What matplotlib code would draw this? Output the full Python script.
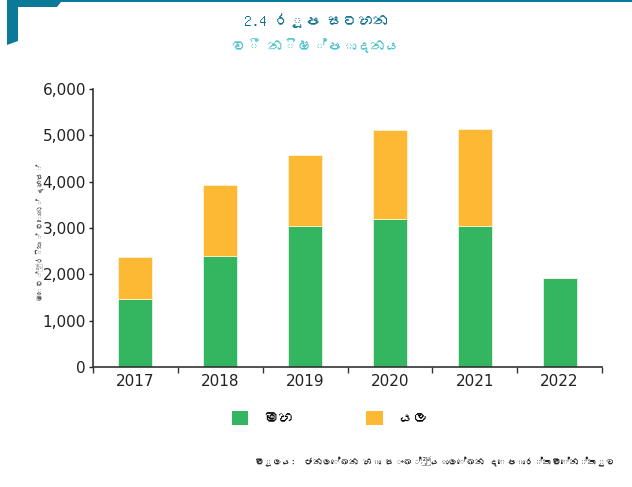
import numpy as np
import matplotlib.pyplot as plt
from matplotlib import font_manager
from matplotlib.patches import Polygon, Patch
from matplotlib.ticker import FuncFormatter
from fontTools.ttLib import TTFont

years = ['2017', '2018', '2019', '2020', '2021', '2022']
maha = np.array([1470, 2390, 3050, 3200, 3050, 1920])
yala = np.array([900, 1530, 1530, 1910, 2090, 0])

title1 = '2.4 රූප සටහන'
title2 = 'වී නිෂ්පාදනය'
ylabel = 'මෙට්‍රික් ටොන් දහස්'
labels = ['මහ', 'යල']
source = 'මූලය:  ජනලේඛන හා සංඛ්‍යාලේඛන දෙපාර්තමේන්තුව'

green = '#34b55f'
orange = '#fdb933'
teal = '#0b7a99'


# look for any installed font that has Sinhala letters
def find_sinhala_font():
    for path in font_manager.findSystemFonts():
        try:
            f = TTFont(path, fontNumber=0, lazy=True)
            cmap = f.getBestCmap() or {}
            if 0x0DB8 in cmap and 0x0DC4 in cmap:
                return font_manager.FontProperties(fname=path).get_name()
        except Exception:
            continue
    return None


sin = find_sinhala_font()
families = [sin, 'DejaVu Sans'] if sin else ['DejaVu Sans']
plt.rcParams['font.family'] = families

fig = plt.figure(figsize=(6.32, 4.87), dpi=100)
ax = fig.add_axes([93 / 632, 1 - 367 / 487, 509 / 632, 278 / 487])

x = np.arange(len(years))
ax.bar(x, maha, width=0.4, color=green, edgecolor='#dff3e4', linewidth=0.6)
ax.bar(x, yala, width=0.4, bottom=maha, color=orange, edgecolor='#fff2d6', linewidth=0.6)

ax.set_xlim(-0.5, len(years) - 0.5)
ax.set_ylim(0, 6000)
ax.set_yticks(np.arange(0, 6001, 1000))
ax.yaxis.set_major_formatter(FuncFormatter(lambda v, p: f'{int(v):,}'))
ax.set_xticks(x)
ax.set_xticklabels(years)
ax.set_xticks(np.arange(-0.5, len(years), 1), minor=True)
ax.tick_params(axis='x', which='major', length=0, labelsize=11, pad=5, colors='#222222')
ax.tick_params(axis='x', which='minor', length=4, width=1, color='#333333')
ax.tick_params(axis='y', length=3, width=1, labelsize=11, colors='#222222', pad=2)
for s in ['top', 'right']:
    ax.spines[s].set_visible(False)
for s in ['left', 'bottom']:
    ax.spines[s].set_color('#333333')
    ax.spines[s].set_linewidth(1.2)
for lab in ax.get_xticklabels() + ax.get_yticklabels():
    lab.set_family('DejaVu Sans')

fig.text(40 / 632, 1 - 232 / 487, ylabel, rotation=90, ha='center', va='center',
         fontsize=5.5, color='#555555')

fig.text(0.5, 1 - 21 / 487, title1, ha='center', va='center', fontsize=11,
         fontweight='bold', color='#0b6f8c')
fig.text(0.5, 1 - 46 / 487, title2, ha='center', va='center', fontsize=10.5,
         color='#4cc3cf')

# corner decoration
fig.patches.append(Polygon([[7, 487], [632, 487], [632, 485], [61, 485], [57, 480],
                            [18, 480], [18, 446], [7, 442]],
                           closed=True, transform=None, facecolor=teal,
                           edgecolor='none'))

handles = [Patch(facecolor=green), Patch(facecolor=orange)]
fig.legend(handles, labels, loc='center', bbox_to_anchor=(330 / 632, 1 - 418 / 487),
           ncol=2, frameon=False, handlelength=1.1, handleheight=1.1,
           handletextpad=1.0, columnspacing=4.7, fontsize=11)

fig.text(615 / 632, 1 - 462 / 487, source, ha='right', va='center', fontsize=6.5,
         color='#222222')

fig.savefig('out.png', dpi=100)
